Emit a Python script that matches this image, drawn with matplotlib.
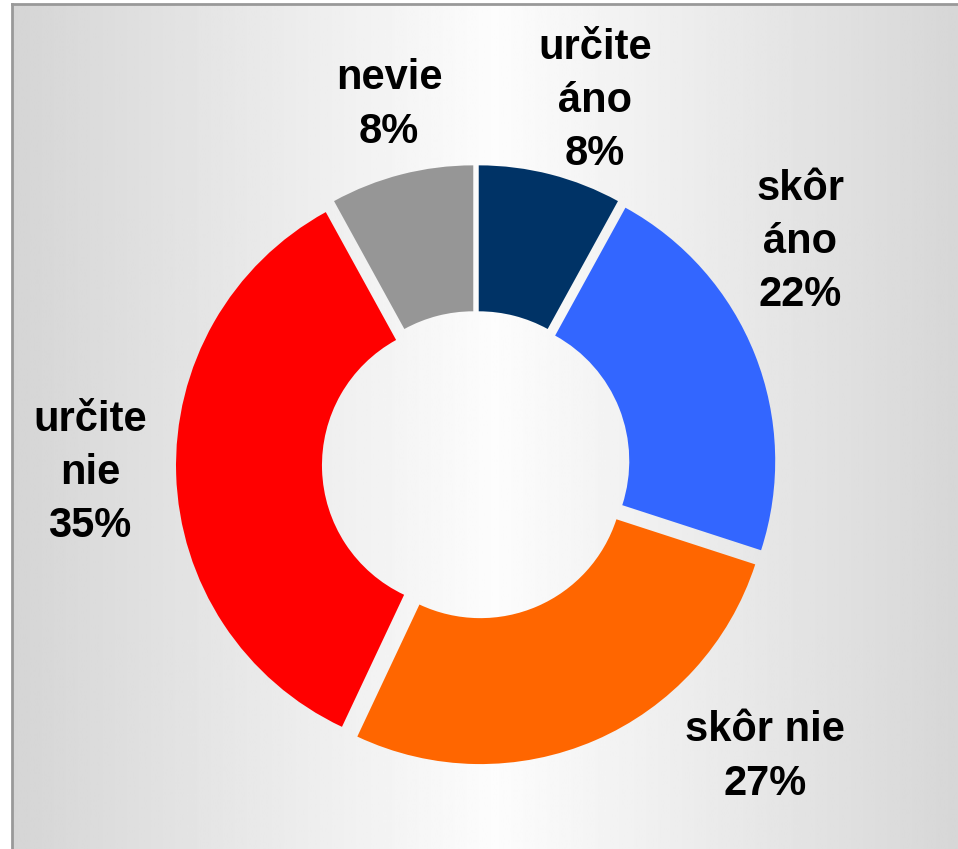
import numpy as np
import matplotlib
matplotlib.use("Agg")
import matplotlib.pyplot as plt

plt.rcParams['font.family'] = ['Liberation Sans', 'DejaVu Sans']

# data
categories = ["určite\náno", "skôr\náno", "skôr nie", "určite\nnie", "nevie"]
values = [8, 22, 27, 35, 8]
colors = ["#003366", "#3366FF", "#FF6600", "#FF0000", "#969696"]
# label centres in pixels (x, y from top)
label_px = [(595, 101), (800, 242), (765, 757), (90, 473), (389, 105)]

W, H = 958, 849
cx, cy, R = 476, 465, 289

fig = plt.figure(figsize=(W / 100, H / 100), dpi=100, facecolor="white")

# background panel with horizontal gradient, border on left and top
bg = fig.add_axes([12 / W, 0, (W + 20 - 12) / W, (H - 4) / H])
grad = np.abs(np.linspace(-1, 1, 400))
shade = 0.99 - 0.155 * grad
bg.imshow(np.tile(shade, (2, 1)), cmap="gray", vmin=0, vmax=1,
          aspect="auto", extent=[0, 1, 0, 1])
bg.set_xticks([])
bg.set_yticks([])
for side in ["right", "bottom"]:
    bg.spines[side].set_visible(False)
for side in ["left", "top"]:
    bg.spines[side].set_color("#999999")
    bg.spines[side].set_linewidth(2.0)

ax = fig.add_axes([0, 0, 1, 1])
ax.set_facecolor("none")
wedges, _ = ax.pie(values, colors=colors, startangle=90, counterclock=False,
                   radius=1, explode=[0.038] * len(values),
                   wedgeprops=dict(width=0.505, linewidth=0))
ax.set_xlim(-cx / R, (W - cx) / R)
ax.set_ylim(-(H - cy) / R, cy / R)
ax.set_aspect("auto")
ax.axis("off")

for name, v, (px, py) in zip(categories, values, label_px):
    ax.text((px - cx) / R, (cy - py) / R, f"{name}\n{v}%",
            ha="center", va="center", fontsize=30, fontweight="bold",
            linespacing=1.42, color="black")

fig.savefig("out.png", dpi=100)
